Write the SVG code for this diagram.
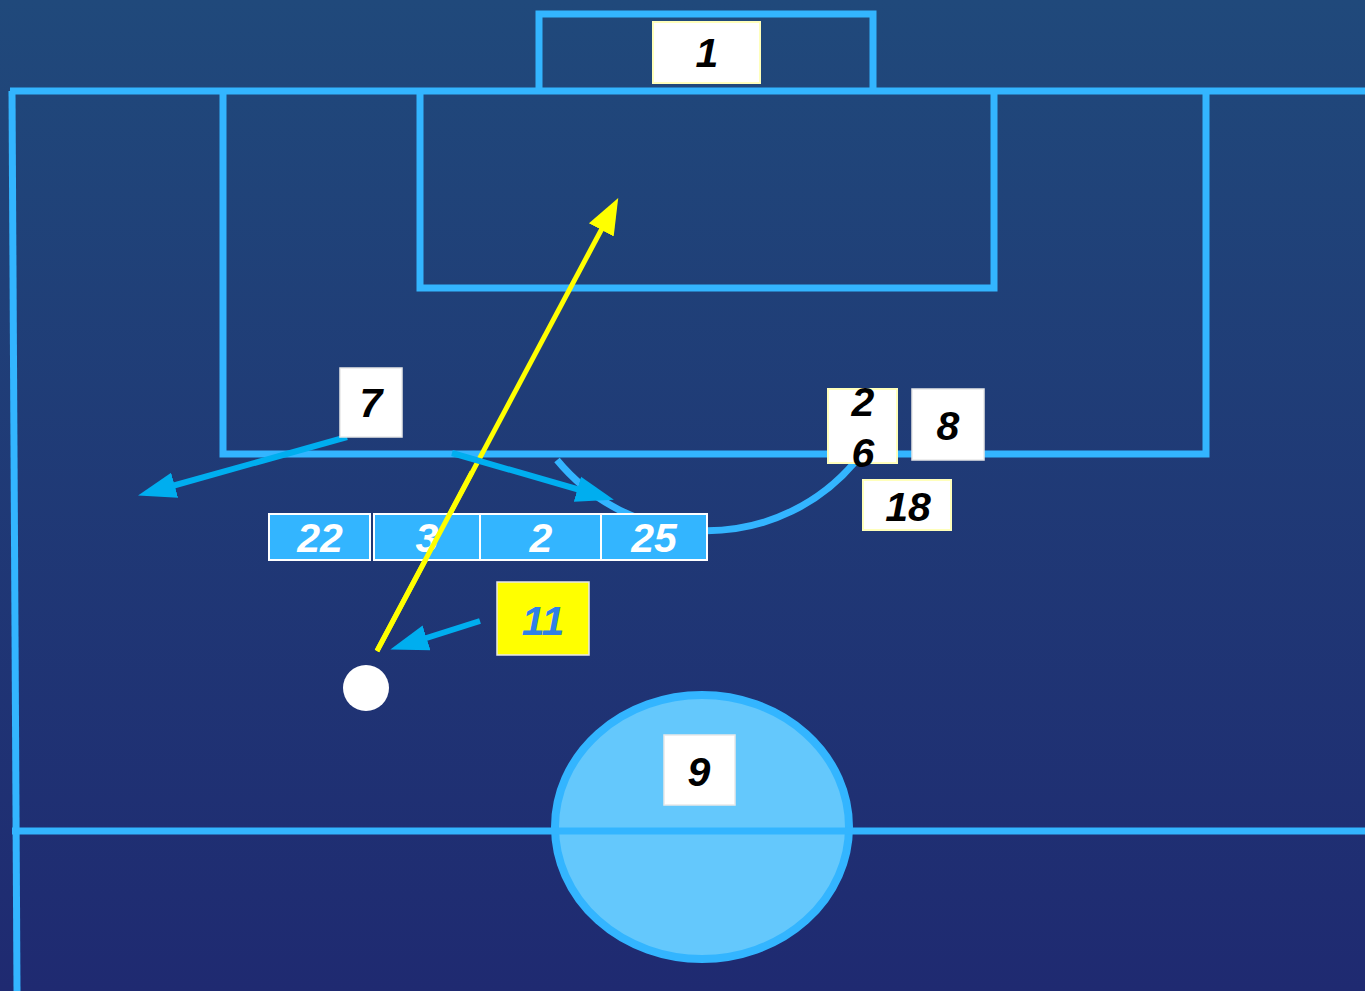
<svg xmlns="http://www.w3.org/2000/svg" width="1365" height="991" viewBox="0 0 1365 991">
<defs>
<linearGradient id="bg" x1="0" y1="0" x2="0" y2="1">
<stop offset="0" stop-color="#20497b"/>
<stop offset="1" stop-color="#1f2a71"/>
</linearGradient>
<marker id="ab" markerUnits="userSpaceOnUse" markerWidth="40" markerHeight="32" refX="10" refY="16" orient="auto">
<path d="M0,3 L38,16 L0,29 Z" fill="#00aeef"/>
</marker>
<marker id="ay" markerUnits="userSpaceOnUse" markerWidth="38" markerHeight="32" refX="10" refY="16" orient="auto">
<path d="M0,2 L36,16 L0,30 Z" fill="#ffff00"/>
</marker>
<style>
.ln{fill:none;stroke:#33b5ff;stroke-width:7}
.lbl{fill:#fff;stroke:#e8e8e8;stroke-width:1.5}
.lbly{fill:#fff;stroke:#ffffbb;stroke-width:2}
.t{font-family:"Liberation Sans",Arial,sans-serif;font-weight:bold;font-style:italic;font-size:41px;text-anchor:middle;fill:#000}
.tw{fill:#fff}
.cell{fill:#33b5ff;stroke:#fff;stroke-width:2}
.arr{fill:none;stroke:#00aeef;stroke-width:6}
</style>
</defs>
<rect width="1365" height="991" fill="url(#bg)"/>
<g id="pitch">
<path class="ln" d="M10,91 H1365"/>
<path class="ln" d="M12,91 L17,991"/>
<path class="ln" d="M223,91 V454 H1206 V91"/>
<path class="ln" d="M420,91 V288 H994 V91"/>
<path class="ln" d="M539,91 V14 H873 V91"/>
<ellipse cx="702" cy="827" rx="147" ry="132" fill="#64c8fc" stroke="#33b5ff" stroke-width="8"/>
<path class="ln" d="M12,831 H1365"/>
<path class="ln" d="M557,460 A194,194 0 0,0 855,462"/>
</g>
<g id="connectors">
<line x1="377" y1="651" x2="606" y2="221" stroke="#ffff00" stroke-width="5" marker-end="url(#ay)"/>
<line class="arr" x1="347" y1="437" x2="165" y2="488" marker-end="url(#ab)"/>
<line class="arr" x1="452" y1="453" x2="587" y2="492" marker-end="url(#ab)"/>
<line class="arr" x1="480" y1="621" x2="417" y2="641" marker-end="url(#ab)"/>
</g>
<g id="wall">
<g id="n22"><rect class="cell" x="269" y="514" width="101" height="46"/><text class="t tw" x="320" y="552">22</text></g>
<g id="n3"><rect class="cell" x="374" y="514" width="106" height="46"/><text class="t tw" x="427" y="552">3</text></g>
<g id="n2"><rect class="cell" x="480" y="514" width="121" height="46"/><text class="t tw" x="541" y="552">2</text></g>
<g id="n25"><rect class="cell" x="601" y="514" width="106" height="46"/><text class="t tw" x="654" y="552">25</text></g>
</g>
<line x1="377" y1="651" x2="472" y2="472" stroke="#ffff00" stroke-width="5"/>
<g id="n1"><rect class="lbly" x="653" y="22" width="107" height="61"/><text class="t" x="707" y="67">1</text></g>
<g id="n7"><rect class="lbl" x="340" y="368" width="62" height="69"/><text class="t" x="371" y="417">7</text></g>
<g id="n26"><rect class="lbly" x="828" y="389" width="69" height="74"/><text class="t" x="863" y="416">2</text><text class="t" x="863" y="467">6</text></g>
<g id="n8"><rect class="lbl" x="912" y="389" width="72" height="71"/><text class="t" x="948" y="440">8</text></g>
<g id="n18"><rect class="lbly" x="863" y="480" width="88" height="50"/><text class="t" x="908" y="521">18</text></g>
<g id="n11"><rect x="497" y="582" width="92" height="73" fill="#ffff00" stroke="#e8e8e8" stroke-width="1.5"/><text class="t" x="543" y="635" style="fill:#2f80e8">11</text></g>
<g id="n9"><rect class="lbl" x="664" y="735" width="71" height="70"/><text class="t" x="699" y="786">9</text></g>
<circle id="ball" cx="366" cy="688" r="23" fill="#fff"/>
</svg>
